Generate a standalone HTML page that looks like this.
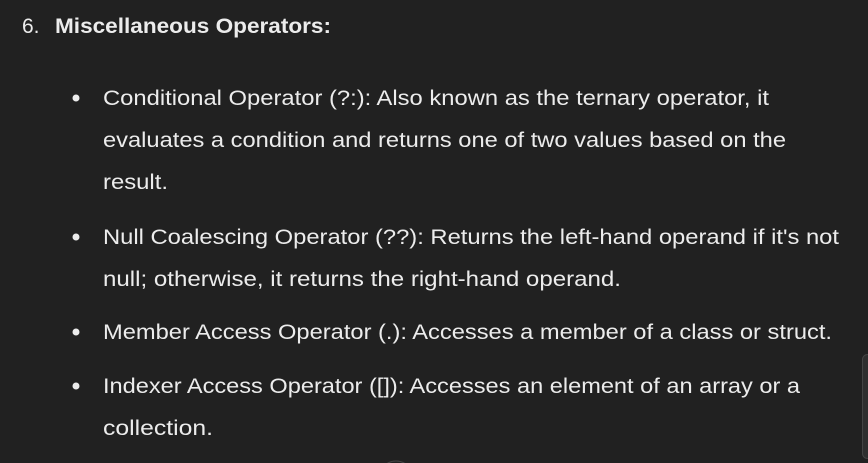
<!DOCTYPE html>
<html><head><meta charset="utf-8"><style>
html,body{margin:0;padding:0;background:#212121;width:868px;height:463px;overflow:hidden}
svg{display:block}
text{font-family:"Liberation Sans",sans-serif;font-size:21px;fill:#ececec}
</style></head><body>
<svg width="868" height="463" viewBox="0 0 868 463" xmlns="http://www.w3.org/2000/svg">
<rect width="868" height="463" fill="#212121"/>
<text x="22" y="33">6.</text>
<text x="55" y="33" font-weight="bold" textLength="276" lengthAdjust="spacingAndGlyphs">Miscellaneous Operators:</text>
<circle cx="76" cy="98" r="3.5" fill="#ececec"/>
<circle cx="76" cy="237" r="3.5" fill="#ececec"/>
<circle cx="76" cy="332" r="3.5" fill="#ececec"/>
<circle cx="76" cy="386" r="3.5" fill="#ececec"/>
<text x="103" y="105" textLength="666" lengthAdjust="spacingAndGlyphs">Conditional Operator (?:): Also known as the ternary operator, it</text>
<text x="103" y="147" textLength="683" lengthAdjust="spacingAndGlyphs">evaluates a condition and returns one of two values based on the</text>
<text x="103" y="189" textLength="65" lengthAdjust="spacingAndGlyphs">result.</text>
<text x="103" y="244" textLength="736" lengthAdjust="spacingAndGlyphs">Null Coalescing Operator (??): Returns the left-hand operand if it's not</text>
<text x="103" y="286" textLength="518" lengthAdjust="spacingAndGlyphs">null; otherwise, it returns the right-hand operand.</text>
<text x="103" y="339" textLength="729" lengthAdjust="spacingAndGlyphs">Member Access Operator (.): Accesses a member of a class or struct.</text>
<text x="103" y="393" textLength="697" lengthAdjust="spacingAndGlyphs">Indexer Access Operator ([]): Accesses an element of an array or a</text>
<text x="103" y="435" textLength="110" lengthAdjust="spacingAndGlyphs">collection.</text>
<rect x="862.5" y="354.5" width="10" height="104" rx="5" fill="#2f2f2f" stroke="#444" stroke-width="1"/>
<circle cx="396" cy="478" r="17" fill="none" stroke="#444" stroke-width="1"/>
</svg>
</body></html>
